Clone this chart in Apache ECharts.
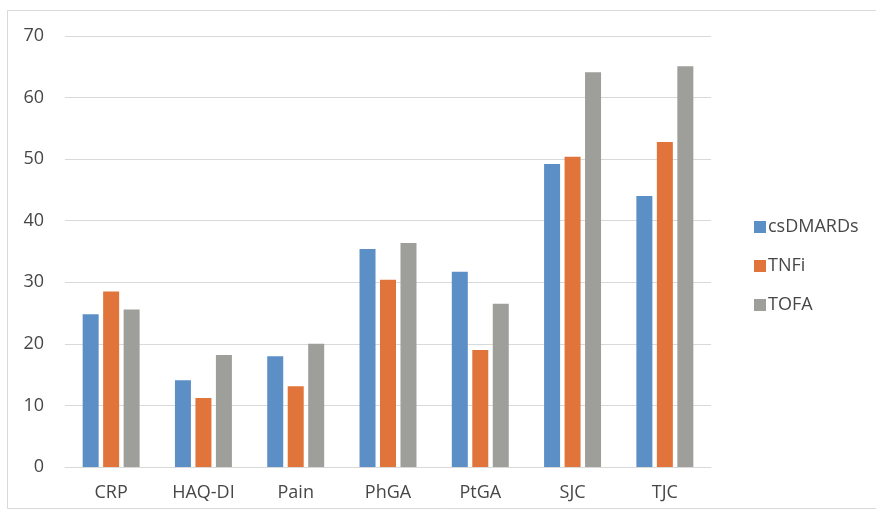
<!DOCTYPE html>
<html>
<head>
<meta charset="utf-8">
<script src="https://cdn.jsdelivr.net/npm/echarts@6/dist/echarts.min.js"></script>
<style>
  html, body { margin: 0; padding: 0; background: #fff; }
  #chart { width: 876px; height: 516px; }
</style>
</head>
<body>
<div id="chart"></div>
<script>
// Outcome measures by treatment group
const categories = ['CRP', 'HAQ-DI', 'Pain', 'PhGA', 'PtGA', 'SJC', 'TJC'];
const csDMARDs = [24.8, 14.1, 18.0, 35.4, 31.7, 49.2, 44.0];
const TNFi     = [28.5, 11.2, 13.1, 30.4, 19.0, 50.4, 52.8];
const TOFA     = [25.6, 18.2, 20.0, 36.4, 26.5, 64.1, 65.1];
const seriesNames = ['csDMARDs', 'TNFi', 'TOFA'];
const colors = ['#5b8fc5', '#e1743a', '#9e9e9b'];

const font = '"Open Sans", "Liberation Sans", sans-serif';
const textColor = '#474747';
const chart = echarts.init(document.getElementById('chart'), null, { renderer: 'canvas' });

const makeSeries = (name, data, i) => ({
  name,
  type: 'bar',
  data,
  barWidth: 16,
  barGap: '28%',
  itemStyle: { color: colors[i] }
});

chart.setOption({
  animation: false,
  backgroundColor: '#fff',
  textStyle: { fontFamily: font },
  graphic: [{
    type: 'rect',
    shape: { x: 7.5, y: 10.5, width: 900, height: 498 },
    style: { fill: 'none', stroke: '#d9d9d9', lineWidth: 1 },
    silent: true,
    z: -1
  }],
  grid: { left: 65, right: 165, top: 36, bottom: 49, containLabel: false },
  legend: {
    orient: 'vertical',
    left: 749,
    top: 211,
    itemWidth: 12,
    itemHeight: 12,
    itemGap: 17,
    icon: 'rect',
    textStyle: { fontFamily: font, fontSize: 18, lineHeight: 22, color: textColor, padding: [0, 0, 0, -3] },
    data: seriesNames
  },
  xAxis: {
    type: 'category',
    data: categories,
    axisLine: { lineStyle: { color: '#d9d9d9', width: 1 } },
    axisTick: { show: false },
    axisLabel: { fontFamily: font, fontSize: 18, color: textColor, margin: 17 }
  },
  yAxis: {
    type: 'value',
    min: 0,
    max: 70,
    interval: 10,
    axisLine: { show: false },
    axisTick: { show: false },
    axisLabel: { fontFamily: font, fontSize: 18, color: textColor, margin: 21 },
    splitLine: { lineStyle: { color: '#d9d9d9', width: 1 } }
  },
  series: [
    makeSeries(seriesNames[0], csDMARDs, 0),
    makeSeries(seriesNames[1], TNFi, 1),
    makeSeries(seriesNames[2], TOFA, 2)
  ]
});
</script>
</body>
</html>
